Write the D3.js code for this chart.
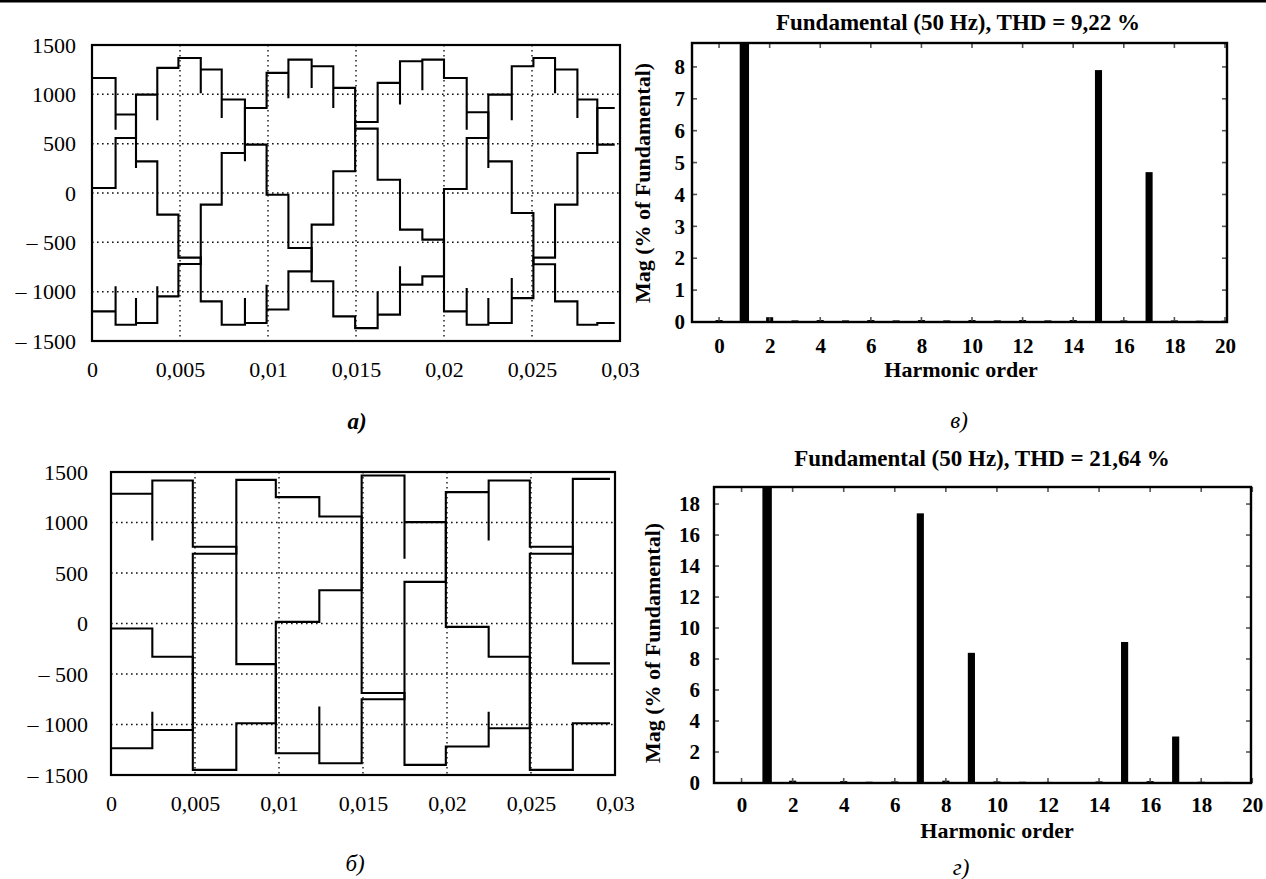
<!DOCTYPE html>
<html><head><meta charset="utf-8">
<script src="https://cdn.jsdelivr.net/npm/d3@7"></script>
<style>
body{margin:0;background:#fff}
svg{display:block}
text{font-family:"Liberation Serif","Times New Roman",serif;fill:#000}
</style>
</head><body>
<svg id="c" width="1266" height="879"></svg>
<script>
// ---------------- DATA ----------------
const timeTicks = [0, 0.005, 0.01, 0.015, 0.02, 0.025, 0.03];
const timeTickLabels = ["0", "0,005", "0,01", "0,015", "0,02", "0,025", "0,03"];
const voltTicks = [-1500, -1000, -500, 0, 500, 1000, 1500];
const voltTickLabels = ["\u2013 1500", "\u2013 1000", "\u2013 500", "0", "500", "1000", "1500"];

// panel a) : switching instants (s) and the level of each phase between them (V)
const waveAEvents = [0.00134, 0.00250, 0.00371, 0.00491, 0.00618, 0.00737, 0.00869, 0.00992, 0.01116, 0.01248, 0.01371, 0.01495, 0.01623, 0.01750, 0.01877, 0.02000, 0.02129, 0.02252, 0.02385, 0.02508, 0.02631, 0.02758, 0.02871];
const waveAPhaseA = [1166, 795, 321, -219, -655, -1098, -1335, -1318, -1180, -794, -321, 220, 720, 1116, 1335, 1352, 1166, 818, 321, -203, -722, -1098, -1335, -1318];
const waveAPhaseB = [-1200, -1335, -1318, -1048, -720, -118, 406, 862, 1217, 1352, 1285, 1065, 652, 135, -371, -473, -1200, -1335, -1318, -1065, -655, -118, 406, 862];
const waveAPhaseC = [50, 558, 997, 1268, 1369, 1251, 947, 490, -17, -557, -895, -1250, -1369, -1233, -929, -845, 40, 558, 997, 1285, 1369, 1251, 947, 490];
// transient spikes: [switching instant index, phase, spike value]
const waveASpikes = [[0,"A",642],[0,"B",-946],[1,"A",254],[1,"B",-1064],[2,"B",-946],[2,"C",737],[4,"C",1011],[5,"C",760],[6,"C",321],[6,"A",-1064],[7,"A",-929],[8,"B",960],[9,"B",1065],[10,"B",862],[12,"C",-997],[13,"C",-743],[13,"A",896],[14,"A",1041],[16,"A",642],[16,"B",-963],[17,"B",-1064],[17,"A",254],[18,"B",-862],[18,"C",737],[20,"C",1011],[21,"C",761]];
const waveAEnd = 0.0297;

// panel б)
const waveBEvents = [0.00246, 0.00487, 0.00746, 0.00981, 0.0124, 0.01492, 0.01747, 0.01993, 0.02248, 0.02493, 0.02749];
const waveBPhaseA = [1284, 1416, 760, -402, -1285, -1383, -750, 412, 1301, 1416, 760, -395];
const waveBPhaseB = [-50, -329, -1449, -988, 16, 329, 1465, 1004, -33, -329, -1449, -988];
const waveBPhaseC = [-1235, -1054, 690, 1422, 1251, 1060, -688, -1400, -1218, -1037, 690, 1432];
const waveBSpikes = [[0,"A",823],[0,"C",-873],[4,"A",-823],[6,"B",642],[8,"A",823],[8,"C",-873]];
const waveBEnd = 0.0297;

// spectra
const harmonicOrders = [0,1,2,3,4,5,6,7,8,9,10,11,12,13,14,15,16,17,18,19,20];
const harmTicks = [0,2,4,6,8,10,12,14,16,18,20];
const magC = [0.06,100,0.15,0.05,0.06,0.05,0.06,0.05,0.06,0.05,0.06,0.05,0.06,0.05,0.06,7.9,0.05,4.7,0.05,0.04,0.04];
const magD = [0.06,100,0.15,0.06,0.12,0.08,0.10,17.4,0.15,8.4,0.10,0.08,0.07,0.05,0.10,9.1,0.12,3.0,0.08,0.07,0.04];
const magCTicks = [0,1,2,3,4,5,6,7,8];
const magDTicks = [0,2,4,6,8,10,12,14,16,18];
const titleC = "Fundamental (50 Hz), THD = 9,22 %";
const titleD = "Fundamental (50 Hz), THD = 21,64 %";
const xTitle = "Harmonic order";
const yTitle = "Mag (% of Fundamental)";

// ---------------- DRAWING ----------------
const svg = d3.select("#c");
svg.append("rect").attr("x",0).attr("y",0).attr("width",1266).attr("height",2.5).attr("fill","#000");

function wavePanel(p, events, phases, spikes, tEnd, id) {
  const x = d3.scaleLinear().domain([0, 0.03]).range([p.L, p.R]);
  const y = d3.scaleLinear().domain([-1500, 1500]).range([p.B, p.T]);
  svg.append("clipPath").attr("id", id).append("rect")
    .attr("x", p.L).attr("y", p.T).attr("width", p.R - p.L).attr("height", p.B - p.T);
  const g = svg.append("g");
  g.selectAll("line.h").data(voltTicks.slice(1, -1)).join("line").attr("class","h")
    .attr("x1", p.L).attr("x2", p.R).attr("y1", d => y(d)).attr("y2", d => y(d))
    .attr("stroke", "#111").attr("stroke-width", 1.5).attr("stroke-dasharray", "1.6,3.4");
  g.selectAll("line.v").data(timeTicks.slice(1, -1)).join("line").attr("class","v")
    .attr("y1", p.T).attr("y2", p.B).attr("x1", d => x(d)).attr("x2", d => x(d))
    .attr("stroke", "#222").attr("stroke-width", 1.5).attr("stroke-dasharray", "1.6,3.4");
  const line = d3.line().x(d => x(d[0])).y(d => y(d[1])).curve(d3.curveStepAfter);
  const tg = g.append("g").attr("clip-path", `url(#${id})`);
  Object.entries(phases).forEach(([name, levels]) => {
    const pts = [[0, levels[0]]];
    events.forEach((t, i) => {
      spikes.filter(s => s[0] === i && s[1] === name).forEach(s => pts.push([t, s[2]]));
      pts.push([t, levels[i + 1]]);
    });
    pts.push([tEnd, levels[levels.length - 1]]);
    tg.append("path").attr("d", line(pts)).attr("fill", "none")
      .attr("stroke", "#000").attr("stroke-width", 2.1).attr("stroke-linejoin", "miter");
  });
  g.append("rect").attr("x", p.L).attr("y", p.T).attr("width", p.R - p.L).attr("height", p.B - p.T)
    .attr("fill", "none").attr("stroke", "#000").attr("stroke-width", 2.2);
  const ya = g.append("g").attr("transform", `translate(${p.L},0)`)
    .call(d3.axisLeft(y).tickValues(voltTicks).tickFormat((d, i) => voltTickLabels[i]).tickSize(0).tickPadding(p.yPad));
  const xa = g.append("g").attr("transform", `translate(0,${p.B})`)
    .call(d3.axisBottom(x).tickValues(timeTicks).tickFormat((d, i) => timeTickLabels[i]).tickSize(0).tickPadding(p.xPad));
  [ya, xa].forEach(a => {
    a.select(".domain").remove();
    a.selectAll("text").attr("font-family", "'Liberation Serif',serif").attr("font-size", 22).attr("fill", "#000");
  });
  svg.append("text").attr("x", p.capX).attr("y", p.capY).attr("text-anchor", "middle")
    .attr("font-size", 23).attr("font-style", "italic").attr("font-weight", p.capBold ? "bold" : "normal").text(p.cap);
}

function spectrumPanel(p, mags, yTicks, yMax, title, id) {
  const x = d3.scaleLinear().domain([p.x0, p.x1]).range([p.L, p.R]);
  const y = d3.scaleLinear().domain([0, yMax]).range([p.B, p.T]);
  svg.append("clipPath").attr("id", id).append("rect")
    .attr("x", p.L).attr("y", p.T).attr("width", p.R - p.L).attr("height", p.B - p.T);
  const g = svg.append("g");
  const bg = g.append("g").attr("clip-path", `url(#${id})`);
  const wN = 0.28, wF = 0.37;
  bg.selectAll("rect").data(harmonicOrders).join("rect")
    .attr("x", (d) => x(d - (d === 1 ? wF : wN) / 2))
    .attr("width", (d) => x(d === 1 ? wF : wN) - x(0))
    .attr("y", (d, i) => y(mags[i]))
    .attr("height", (d, i) => Math.max(0, y(0) - y(mags[i])))
    .attr("fill", "#000");
  const tk = g.append("g").attr("stroke", "#555").attr("stroke-width", 1.6);
  harmTicks.forEach(h => {
    tk.append("line").attr("x1", x(h)).attr("x2", x(h)).attr("y1", p.B).attr("y2", p.B - 5);
    tk.append("line").attr("x1", x(h)).attr("x2", x(h)).attr("y1", p.T).attr("y2", p.T + 5);
  });
  yTicks.forEach(v => {
    tk.append("line").attr("x1", p.L).attr("x2", p.L + 5).attr("y1", y(v)).attr("y2", y(v));
    tk.append("line").attr("x1", p.R).attr("x2", p.R - 5).attr("y1", y(v)).attr("y2", y(v));
  });
  g.append("rect").attr("x", p.L).attr("y", p.T).attr("width", p.R - p.L).attr("height", p.B - p.T)
    .attr("fill", "none").attr("stroke", "#000").attr("stroke-width", 2.4);
  const ya = g.append("g").attr("transform", `translate(${p.L},0)`)
    .call(d3.axisLeft(y).tickValues(yTicks).tickFormat(d3.format("d")).tickSize(0).tickPadding(p.yPad));
  const xa = g.append("g").attr("transform", `translate(0,${p.B})`)
    .call(d3.axisBottom(x).tickValues(harmTicks).tickFormat(d3.format("d")).tickSize(0).tickPadding(p.xPad));
  [ya, xa].forEach(a => {
    a.select(".domain").remove();
    a.selectAll("text").attr("font-family", "'Liberation Serif',serif").attr("font-size", 21)
      .attr("font-weight", "bold").attr("fill", "#000");
  });
  svg.append("text").attr("x", p.titleX).attr("y", p.titleY).attr("text-anchor", "middle")
    .attr("font-size", 23).attr("font-weight", "bold").text(title);
  svg.append("text").attr("x", p.xtX).attr("y", p.xtY).attr("text-anchor", "middle")
    .attr("font-size", 22).attr("font-weight", "bold").text(xTitle);
  svg.append("text").attr("transform", `translate(${p.ytX},${p.ytY}) rotate(-90)`).attr("text-anchor", "middle")
    .attr("font-size", 22).attr("font-weight", "bold").text(yTitle);
  svg.append("text").attr("x", p.capX).attr("y", p.capY).attr("text-anchor", "middle")
    .attr("font-size", 23).attr("font-style", "italic").text(p.cap);
}

wavePanel({L:92, R:620, T:45, B:341, yPad:16, xPad:20, capX:357, capY:429, cap:"а)", capBold:true},
  waveAEvents, {A: waveAPhaseA, B: waveAPhaseB, C: waveAPhaseC}, waveASpikes, waveAEnd, "clipA");
wavePanel({L:111, R:615, T:472, B:775, yPad:23, xPad:20, capX:355, capY:871, cap:"б)", capBold:false},
  waveBEvents, {A: waveBPhaseA, B: waveBPhaseB, C: waveBPhaseC}, waveBSpikes, waveBEnd, "clipB");

spectrumPanel({L:692, R:1227, T:43, B:322, x0:-1.07, x1:20.08, yPad:7, xPad:16,
  titleX:958, titleY:30, xtX:961, xtY:377, ytX:650, ytY:183, capX:959, capY:428, cap:"в)"},
  magC, magCTicks, 8.75, titleC, "clipC");
spectrumPanel({L:714, R:1251, T:487, B:783, x0:-1.08, x1:19.95, yPad:14, xPad:14,
  titleX:982, titleY:466, xtX:997, xtY:838, ytX:660, ytY:643, capX:961, capY:875, cap:"г)"},
  magD, magDTicks, 19.1, titleD, "clipD");
</script>
</body></html>
